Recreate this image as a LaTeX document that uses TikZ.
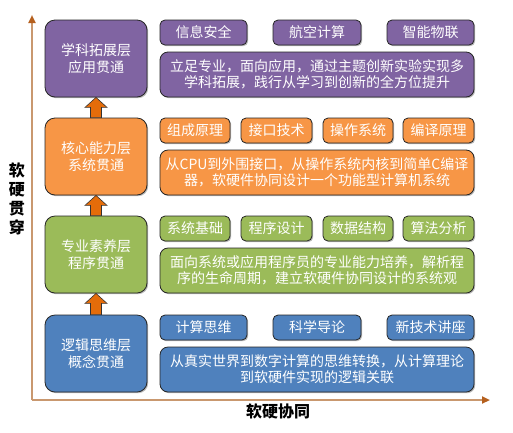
\documentclass[tikz,border=0pt]{standalone}
\usepackage{fontspec}
\newfontfamily\cjk{Noto Sans CJK SC}
\usetikzlibrary{arrows.meta,shadows}
\definecolor{appc}{HTML}{8064A2}
\definecolor{corec}{HTML}{F79646}
\definecolor{profc}{HTML}{9BBB59}
\definecolor{logicc}{HTML}{4F81BD}
\definecolor{liftc}{HTML}{E46C0A}
\definecolor{axisc}{HTML}{C9986F}
\definecolor{tipc}{HTML}{B5601E}
\begin{document}
\begin{tikzpicture}[
  x=1pt,y=-1pt,
  boxline/.style={draw=black!85,line width=0.8pt,text=white,
    drop shadow={shadow xshift=1.2pt,shadow yshift=-1.2pt,fill=black!45,opacity=.6}},
  layer/.style={boxline,rounded corners=10pt,minimum width=102pt,minimum height=77pt,
    align=center,font=\cjk\fontsize{14}{17}\selectfont},
  course/.style={boxline,rounded corners=5pt,minimum width=#1,minimum height=25pt,
    inner sep=0pt,font=\cjk\fontsize{14}{16}\selectfont},
  summary/.style={boxline,rounded corners=8pt,minimum width=314pt,minimum height=45pt,
    inner sep=0pt,align=center,font=\cjk\fontsize{14}{16}\selectfont},
  axis/.style={draw=axisc,line width=2pt,-{Triangle[length=8pt,width=7pt,color=tipc]}},
  axislabel/.style={align=center,font=\cjk\bfseries\fontsize{16}{19}\selectfont},
  lift/.style={fill=liftc,draw=black!80,line width=0.6pt}
]
  \useasboundingbox (0,0) rectangle (513,432);

  % axes
  \coordinate (origin) at (32,400);
  \coordinate (ytop) at (32,15);
  \coordinate (xend) at (490,400);
  \draw[axis] (origin) -- (ytop);
  \draw[axis] (origin) -- (xend);
  \node[axislabel] (ylab) at (17,199) {软\\硬\\贯\\穿};
  \node[axislabel] (xlab) at (278,411) {软硬协同};

  % application layer
  \node[layer,fill=appc] (app) at (96,58.5) {学科拓展层\\应用贯通};
  \node[course=87pt,fill=appc] (app1) at (203.5,32.5) {信息安全};
  \node[course=88pt,fill=appc] (app2) at (317,32.5) {航空计算};
  \node[course=87pt,fill=appc] (app3) at (430.5,32.5) {智能物联};
  \node[summary,fill=appc] (appd) at (317,74.5)
    {立足专业，面向应用，通过主题创新实验实现多\\学科拓展，践行从学习到创新的全方位提升};

  % core ability layer
  \node[layer,fill=corec] (core) at (96,156.5) {核心能力层\\系统贯通};
  \node[course=70pt,fill=corec] (core1) at (195,130.5) {组成原理};
  \node[course=71pt,fill=corec] (core2) at (276.5,130.5) {接口技术};
  \node[course=70pt,fill=corec] (core3) at (358,130.5) {操作系统};
  \node[course=71pt,fill=corec] (core4) at (438.5,130.5) {编译原理};
  \node[summary,fill=corec] (cored) at (317,172.5)
    {从CPU到外围接口，从操作系统内核到简单C编译\\器，软硬件协同设计一个功能型计算机系统};

  % professional layer
  \node[layer,fill=profc] (prof) at (96,254.5) {专业素养层\\程序贯通};
  \node[course=70pt,fill=profc] (prof1) at (195,228.5) {系统基础};
  \node[course=71pt,fill=profc] (prof2) at (276.5,228.5) {程序设计};
  \node[course=70pt,fill=profc] (prof3) at (358,228.5) {数据结构};
  \node[course=71pt,fill=profc] (prof4) at (438.5,228.5) {算法分析};
  \node[summary,fill=profc] (profd) at (317,270.5)
    {面向系统或应用程序员的专业能力培养，解析程\\序的生命周期，建立软硬件协同设计的系统观};

  % logic layer
  \node[layer,fill=logicc] (logic) at (96,353.5) {逻辑思维层\\概念贯通};
  \node[course=87pt,fill=logicc] (logic1) at (203.5,327.5) {计算思维};
  \node[course=88pt,fill=logicc] (logic2) at (317,327.5) {科学导论};
  \node[course=87pt,fill=logicc] (logic3) at (430.5,327.5) {新技术讲座};
  \node[summary,fill=logicc] (logicd) at (317,369.5)
    {从真实世界到数字计算的思维转换，从计算理论\\到软硬件实现的逻辑关联};

  % lifting arrows
  \foreach \lo/\hi in {logic/prof,prof/core,core/app}
    \draw[lift] ([xshift=-5.5pt]\lo.north) -- ([xshift=-5.5pt,yshift=-10pt]\hi.south)
      -- ([xshift=-11pt,yshift=-10pt]\hi.south) -- (\hi.south)
      -- ([xshift=11pt,yshift=-10pt]\hi.south) -- ([xshift=5.5pt,yshift=-10pt]\hi.south)
      -- ([xshift=5.5pt]\lo.north) -- cycle;
\end{tikzpicture}
\end{document}
